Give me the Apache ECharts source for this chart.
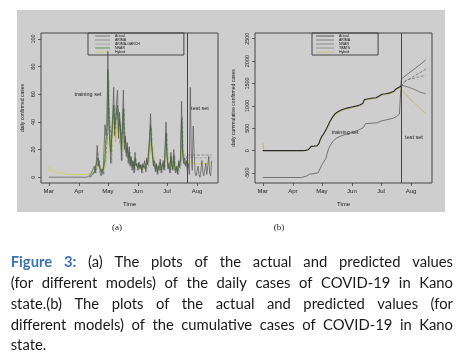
<!DOCTYPE html>
<html><head><meta charset="utf-8">
<script src="https://cdn.jsdelivr.net/npm/echarts@6/dist/echarts.min.js"></script>
<style>html,body{margin:0;padding:0;background:#fff}#c{width:460px;height:359px}</style>
</head><body><div id="c"></div>
<script>
// ---------- DATA ----------
// x = day offset from 1 March 2020
const monthStarts = [0, 31, 61, 92, 122, 153];
const monthLabels = ['Mar', 'Apr', 'May', 'Jun', 'Jul', 'Aug'];
const yTicksA = [0, 20, 40, 60, 80, 100];
const yTicksB = [-500, 0, 500, 1000, 1500, 2000, 2500];
const testStartDay = 143;

const namesA = ['Actual', 'ARIMA', 'ARIMA-GARCH', 'NNAR', 'Hybrid'];
const namesB = ['Actual', 'ARIMA', 'NNAR', 'TBATS', 'Hybrid'];

// (a) daily cases, from day 0
const actualDaily = [
 0,0,0,0,0,0,0,0,0,0,0,0,0,0,0,0,0,0,0,0,0,0,0,0,0,0,0,0,0,0,0,0,0,0,0,0,0,0,0,0,0,0,
 1,0,3,2,4,8,3,10,23,8,12,3,1,6,2,20,38,30,36,
 91,40,25,10,33,45,65,30,42,55,63,28,47,35,12,40,63,20,30,15,
 25,10,22,8,15,5,12,3,18,8,10,5,11,6,9,3,10,7,12,4,
 14,9,20,30,46,25,15,8,12,4,10,2,8,5,13,3,8,12,5,22,
 40,15,6,10,3,18,8,5,20,6,3,8,2,12,7,15,55,20,10,14,
 8,12,4,10,2,65,20,5,37,18,3,1,4,8,2,0,5,12,3,1,
 6,10,2,8,15,3,1,12
];
// model fits / forecasts, from day 42
const modelStartDay = 42;
const arimaDaily = [
 0,0,1,1,2,3,4,5,7,10,9,8,6,5,4,5,8,15,24,
 35,50,40,32,30,36,45,42,40,44,48,40,38,38,30,32,40,35,28,24,
 22,18,17,14,13,11,10,9,10,9,9,8,8,8,8,7,7,8,8,8,
 9,10,13,18,25,28,22,16,12,10,9,8,7,7,8,7,7,8,8,11,
 18,20,14,11,9,11,10,8,11,10,8,8,7,8,9,10,20,25,18,14,12,12,
 16,16,16,16,16,16,16,16,16,16,16,16,16,16,16,16,16,16,16,16,16,16,16,16,16,16
];
const garchDaily = [
 0,1,0,2,2,4,6,3,9,18,7,9,3,2,6,2,15,30,25,
 30,70,32,20,10,28,38,52,26,35,45,50,24,38,28,12,32,50,18,24,
 13,20,9,18,7,12,5,10,4,14,7,9,5,9,6,8,3,8,6,10,
 4,12,8,16,24,36,20,12,7,10,4,8,2,7,5,10,3,7,10,5,
 18,32,12,5,8,3,15,7,5,16,5,3,7,2,10,6,12,44,16,9,12,7,
 14,14,14,14,14,14,14,14,14,14,14,14,14,14,14,14,14,14,14,14,14,14,14,14,14,14
];
const nnarDaily = [
 0,1,1,2,2,4,5,4,12,14,8,9,4,3,6,6,12,28,30,
 78,45,30,18,28,40,52,35,40,48,52,32,42,36,20,35,50,25,28,18,
 22,14,18,10,14,8,11,6,14,9,10,7,10,7,9,5,9,8,10,6,
 12,10,17,25,38,24,16,10,11,6,9,4,7,6,11,5,8,10,6,18,
 32,16,8,9,5,15,9,6,16,8,5,7,4,10,8,13,42,20,12,13,9,11
];
// hybrid, from day 0
const hybridDaily = [
 8,5,5,5,5,4,4,4,3,3,3,3,3,3,3,3,3,3,2,2,2,2,2,2,2,2,2,2,2,2,2,2,2,2,2,2,2,2,2,2,2,2,
 2,3,4,5,6,8,9,8,7,9,10,8,6,5,4,5,7,10,15,
 22,30,28,20,18,30,40,45,35,28,38,42,30,25,20,22,30,28,20,18,
 16,14,12,11,10,9,8,8,9,8,7,7,8,6,7,6,6,7,7,8,
 9,10,12,16,22,26,24,18,14,10,8,7,6,6,7,6,7,8,9,12,
 16,20,15,10,8,9,10,8,9,10,7,6,6,7,9,12,18,22,16,12,10,11,
 12,11,10,12,11,10,9,10,11,10,9,10,9,10,10,9,10,10,9,10,9,10,10,9,10,9
];

// (b) cumulative cases, [day, value]
const cumActual = [[0,0],[41,0],[44,5],[47,20],[50,95],[53,100],[56,108],[58,160],[59,230],[61,320],[63,380],[66,500],[69,640],[72,750],[75,830],[78,875],[82,920],[87,950],[92,975],[97,1000],[100,1020],[103,1050],[105,1140],[107,1160],[112,1170],[117,1180],[120,1220],[123,1260],[127,1270],[131,1290],[135,1320],[137,1370],[139,1400],[141,1420],[143,1450]];
const cumArima = [[0,-600],[40,-600],[45,-570],[48,-530],[53,-510],[57,-500],[59,-460],[60,-360],[62,-280],[65,-180],[68,50],[72,200],[76,280],[80,320],[85,360],[90,390],[95,430],[100,470],[104,520],[106,600],[110,610],[118,620],[122,660],[128,690],[134,720],[138,760],[141,820],[142,850],[143,1600],[150,1720],[158,1850],[163,1930],[168,2025]];
const cumNnar = [[143,1450],[148,1560],[155,1650],[162,1740],[168,1817]];
const cumTbats = [[143,1450],[148,1580],[155,1610],[162,1650],[168,1683]];
const cumTbats2 = [[143,1460],[150,1420],[156,1370],[162,1310],[168,1266]];
const cumHybrid = [[0,170],[1,10],[5,0],[41,0],[44,0],[47,15],[50,85],[53,95],[56,100],[58,150],[59,215],[61,300],[63,360],[66,480],[69,620],[72,730],[75,810],[78,855],[82,900],[87,930],[92,955],[97,985],[100,1005],[103,1035],[105,1120],[107,1140],[112,1155],[117,1165],[120,1200],[123,1240],[127,1255],[131,1275],[135,1300],[137,1350],[139,1380],[141,1400],[143,1430],[146,1300],[152,1150],[158,1030],[163,930],[168,835]];

const captionLines = [
 'Figure 3: (a) The plots of the actual and predicted values',
 '(for different models) of the daily cases of COVID-19 in Kano',
 'state.(b) The plots of the actual and predicted values (for',
 'different models) of the cumulative cases of COVID-19 in Kano',
 'state.'
];
const captionBoldWords = 2;

// ---------- CHART ----------
const FF = 'Liberation Sans, Arial, sans-serif';
const chart = echarts.init(document.getElementById('c'), null, {renderer: 'canvas'});
const toPairs = (arr, start) => arr.map((v, i) => [start + i, v]);
const monthFmt = v => monthLabels[monthStarts.indexOf(Math.round(v))] || '';
const SUF = ' ';  // (b) series names carry a trailing space to stay separate

function xAxis(gi) {
  return {gridIndex: gi, type: 'value', min: -8, max: 174.6,
    axisLine: {show: false, onZero: false}, splitLine: {show: false},
    axisTick: {show: true, length: 3, lineStyle: {color: '#444', width: 0.8}, customValues: monthStarts},
    axisLabel: {customValues: monthStarts, formatter: monthFmt, fontSize: 6, margin: 5, color: '#222', fontFamily: FF},
    name: 'Time', nameLocation: 'middle', nameGap: 18,
    nameTextStyle: {fontSize: 6, color: '#222', fontFamily: FF}};
}
function yAxis(gi, min, max, ticks, name, gap) {
  return {gridIndex: gi, type: 'value', min: min, max: max,
    axisLine: {show: false, onZero: false}, splitLine: {show: false},
    axisTick: {show: true, length: 3, lineStyle: {color: '#444', width: 0.8}, customValues: ticks},
    axisLabel: {customValues: ticks, rotate: 90, fontSize: 5.5, margin: 4.5, color: '#222', fontFamily: FF,
      formatter: v => String(v)},
    name: name, nameLocation: 'middle', nameRotate: 90, nameGap: gap,
    nameTextStyle: {fontSize: 5, color: '#222', fontFamily: FF}};
}
function line(name, data, xi, color, width, type, extra) {
  return Object.assign({name: name, type: 'line', xAxisIndex: xi, yAxisIndex: xi, data: data,
    showSymbol: false, symbol: 'none', animation: false, connectNulls: false,
    lineStyle: {color: color, width: width, type: type}, itemStyle: {color: color}}, extra || {});
}
const vline = {symbol: 'none', silent: true, label: {show: false},
  lineStyle: {color: '#444', width: 1, type: 'solid'}, data: [{xAxis: testStartDay}]};
function note(coord, text) {
  return {coord: coord, value: text, symbol: 'circle', symbolSize: 0,
    label: {show: true, position: 'inside', formatter: text, fontSize: 5.5, color: '#222', fontFamily: FF}};
}
const legendBase = {orient: 'vertical', icon: 'rect', itemHeight: 0.7, itemGap: 0,
  borderColor: '#444', borderWidth: 1, selectedMode: false,
  itemStyle: {borderWidth: 0}, lineStyle: {width: 0},
  textStyle: {fontSize: 3.5, lineHeight: 3.2, color: '#111', fontFamily: FF}};

const option = {
  animation: false,
  grid: [
    {left: 41, top: 33, width: 177, height: 150, show: true, borderColor: '#444', borderWidth: 1, backgroundColor: 'transparent'},
    {left: 255, top: 33, width: 177, height: 150, show: true, borderColor: '#444', borderWidth: 1, backgroundColor: 'transparent'}
  ],
  xAxis: [xAxis(0), xAxis(1)],
  yAxis: [yAxis(0, -4.2, 104.3, yTicksA, 'daily confirmed cases', 16),
          yAxis(1, -723, 2627, yTicksB, 'daily cummulative confirmed cases', 19)],
  legend: [
    Object.assign({}, legendBase, {left: 88, top: 33, padding: [1, 44, 1, 7], itemWidth: 15, data: namesA}),
    Object.assign({}, legendBase, {left: 312, top: 33, padding: [1, 28, 1, 4], itemWidth: 18,
      data: namesB.map(n => n + SUF), formatter: n => n.trim()})
  ],
  graphic: [],
  series: [
    line(namesA[0], toPairs(actualDaily, 0), 0, '#545454', 0.7, 'solid', {z: 5,
      markLine: vline,
      markPoint: {data: [note([40.5, 60], 'training set'), note([156, 50], 'test set')]}}),
    line(namesA[1], toPairs(arimaDaily, modelStartDay), 0, '#767676', 0.7, [3, 1.5]),
    line(namesA[2], toPairs(garchDaily, modelStartDay), 0, '#939393', 0.7, [3, 1.5]),
    line(namesA[3], toPairs(nnarDaily, modelStartDay), 0, '#2f7a2a', 0.8, 'solid', {z: 4}),
    line(namesA[4], toPairs(hybridDaily, 0), 0, '#d3d24e', 0.8, 'solid', {z: 3}),

    line(namesB[0] + SUF, cumActual, 1, '#2a2a2a', 1.1, 'solid', {z: 5,
      markLine: vline,
      markPoint: {data: [note([85, 400], 'training set'), note([156, 300], 'test set')]}}),
    line(namesB[1] + SUF, cumArima, 1, '#5c5c5c', 0.8, 'solid'),
    line(namesB[2] + SUF, cumNnar, 1, '#6e6e6e', 0.8, [3, 1.5]),
    line(namesB[3] + SUF, cumTbats, 1, '#7a7a7a', 0.8, [3, 1.5]),
    line(namesB[3] + SUF, cumTbats2, 1, '#6a6a6a', 0.8, 'solid'),
    line(namesB[4] + SUF, cumHybrid, 1, '#bdb95a', 0.9, 'solid', {z: 4})
  ]
};

// background panel + panel tags + caption (justified)
const G = option.graphic;
G.push({type: 'rect', z: -10, silent: true, shape: {x: 17, y: 10, width: 428, height: 202}, style: {fill: '#cecece'}});
G.push({type: 'text', x: 117, y: 228, style: {text: '(a)', fontSize: 9, fontFamily: 'Liberation Serif', fill: '#222', align: 'center', verticalAlign: 'middle'}});
G.push({type: 'text', x: 279, y: 228, style: {text: '(b)', fontSize: 9, fontFamily: 'Liberation Serif', fill: '#222', align: 'center', verticalAlign: 'middle'}});

const cv = document.createElement('canvas').getContext('2d');
const CF = 'Lato', CS = 14.8, CL = 10.7, CR = 453, CY0 = 262.7, CDY = 20.75;
captionLines.forEach((ln, li) => {
  const words = ln.split(' ').map((t, wi) => ({t: t, bold: li === 0 && wi < captionBoldWords}));
  words.forEach(w => { cv.font = (w.bold ? 'bold ' : '') + CS + 'px ' + CF; w.w = cv.measureText(w.t).width; });
  const sum = words.reduce((s, w) => s + w.w, 0);
  cv.font = CS + 'px ' + CF;
  const last = li === captionLines.length - 1;
  const gap = last ? cv.measureText(' ').width : (CR - CL - sum) / (words.length - 1);
  let x = CL;
  words.forEach(w => {
    G.push({type: 'text', x: x, y: CY0 + li * CDY, style: {text: w.t, fontSize: CS, fontFamily: CF,
      fontWeight: w.bold ? 'bold' : 'normal', fill: w.bold ? '#3a74b4' : '#1a1a1a', verticalAlign: 'middle'}});
    x += w.w + gap;
  });
});

chart.setOption(option);
</script></body></html>
